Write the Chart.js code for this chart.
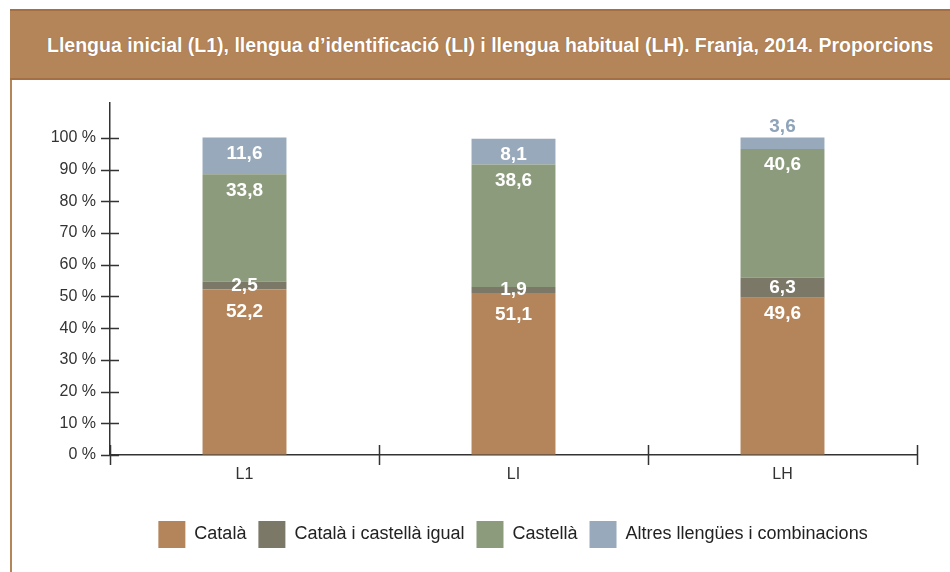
<!DOCTYPE html>
<html>
<head>
<meta charset="utf-8">
<script src="https://cdn.jsdelivr.net/npm/chart.js@4.4.0/dist/chart.umd.min.js"></script>
<style>
    html, body { margin: 0; padding: 0; background: #fff; width: 950px; height: 572px; overflow: hidden;
        font-family: "Liberation Sans", Arial, sans-serif; }
    #header { position: absolute; left: 10px; top: 9px; width: 940px; height: 67px; background: #b5855a;
        border-top: 2px solid #a36f43; border-bottom: 2px solid #a36f43; }
    #header h1 { margin: 0; position: absolute; left: 37px; top: 24px; font-size: 19.5px; font-weight: bold;
        color: #fff; white-space: nowrap; line-height: 20px; text-shadow: 0 0 1px rgba(70, 45, 20, 0.5); }
    #frame { position: absolute; left: 10px; top: 80px; width: 2px; height: 492px; background: #b5855a; }
    #wrap { position: absolute; left: 40px; top: 85px; width: 910px; height: 487px; overflow: hidden; }
</style>
</head>
<body>
<div id="header"><h1>Llengua inicial (L1), llengua d’identificació (LI) i llengua habitual (LH). Franja, 2014. Proporcions</h1></div>
<div id="frame"></div>
<div id="wrap"><canvas id="chart" width="946" height="487"></canvas></div>
<script>
// --- DATA ---
const categories = ['L1', 'LI', 'LH'];
const seriesNames = ['Català', 'Català i castellà igual', 'Castellà', 'Altres llengües i combinacions'];
const catala = [52.2, 51.1, 49.6];
const catalaCastella = [2.5, 1.9, 6.3];
const castella = [33.8, 38.6, 40.6];
const altres = [11.6, 8.1, 3.6];
const seriesColors = ['#b4855a', '#7b7868', '#8c9b7c', '#97a9ba'];

const FONT = '"Liberation Sans", Arial, sans-serif';

// white value labels inside each segment (small top one goes above the bar)
const segmentLabels = {
    id: 'segmentLabels',
    afterDatasetsDraw(chart) {
        const ctx = chart.ctx;
        const sets = chart.data.datasets;
        ctx.save();
        ctx.font = 'bold 19px ' + FONT;
        ctx.textAlign = 'center';
        ctx.textBaseline = 'middle';
        sets.forEach((ds, di) => {
            chart.getDatasetMeta(di).data.forEach((bar, i) => {
                const v = ds.data[i];
                const txt = v.toFixed(1).replace('.', ',');
                let y;
                let color = '#fff';
                if (v < 5 && di === sets.length - 1) {
                    y = bar.y - 11;
                    color = '#8fa4b9';
                } else if (v < 7) {
                    y = (bar.y + bar.base) / 2;
                } else {
                    const above = sets[di + 1] ? sets[di + 1].data[i] : 99;
                    y = bar.y + (above < 3 ? 22 : 16);
                }
                ctx.fillStyle = color;
                ctx.fillText(txt, bar.x, y);
            });
        });
        ctx.restore();
    }
};

// tick marks that cross the axis lines
const crossTicks = {
    id: 'crossTicks',
    afterDraw(chart) {
        const { ctx, scales: { x, y } } = chart;
        ctx.save();
        ctx.strokeStyle = '#333';
        ctx.lineWidth = 1.5;
        ctx.beginPath();
        y.ticks.forEach((t, i) => {
            const py = Math.round(y.getPixelForTick(i)) + 0.5;
            ctx.moveTo(y.right - 9, py);
            ctx.lineTo(y.right + 9, py);
        });
        for (let i = 0; i <= x.ticks.length; i++) {
            const px = Math.round(x.getPixelForValue(i - 0.5)) + 0.5;
            ctx.moveTo(px, x.top - 10);
            ctx.lineTo(px, x.top + 10);
        }
        ctx.stroke();
        ctx.restore();
    }
};

new Chart(document.getElementById('chart'), {
    type: 'bar',
    data: {
        labels: categories,
        datasets: [catala, catalaCastella, castella, altres].map((d, i) => ({
            label: seriesNames[i],
            data: d,
            backgroundColor: seriesColors[i],
            borderWidth: 0,
            barPercentage: 0.312,
            categoryPercentage: 1
        }))
    },
    options: {
        responsive: false,
        animation: false,
        devicePixelRatio: 1,
        layout: { padding: { top: 18, right: 0, bottom: 14, left: 0 } },
        scales: {
            x: {
                stacked: true,
                offset: true,
                grid: { display: true, offset: true, drawOnChartArea: false, tickLength: 10, color: 'transparent' },
                border: { color: '#333', width: 1.5 },
                ticks: { color: '#333', font: { family: FONT, size: 16 }, padding: 0 },
                afterFit(scale) { scale.height = 54; }
            },
            y: {
                stacked: true,
                min: 0,
                max: 111,
                grid: { display: true, drawOnChartArea: false, tickLength: 9, color: 'transparent' },
                border: { color: '#333', width: 1.5 },
                ticks: {
                    stepSize: 10,
                    color: '#333',
                    font: { family: FONT, size: 16 },
                    padding: 5,
                    callback: v => v + ' %'
                },
                afterBuildTicks(scale) { scale.ticks = scale.ticks.filter(t => t.value <= 100); },
                afterFit(scale) { scale.width = 70; }
            },
            // empty right-hand spacer so the legend centres under the plot
            spacer: {
                type: 'linear',
                position: 'right',
                grid: { display: false },
                border: { display: false },
                ticks: { display: false },
                afterFit(scale) { scale.width = 69; }
            }
        },
        plugins: {
            legend: {
                position: 'bottom',
                labels: {
                    boxWidth: 27,
                    boxHeight: 27,
                    padding: 12,
                    color: '#222',
                    font: { family: FONT, size: 18 }
                }
            },
            tooltip: { enabled: false }
        }
    },
    plugins: [segmentLabels, crossTicks]
});
</script>
</body>
</html>
